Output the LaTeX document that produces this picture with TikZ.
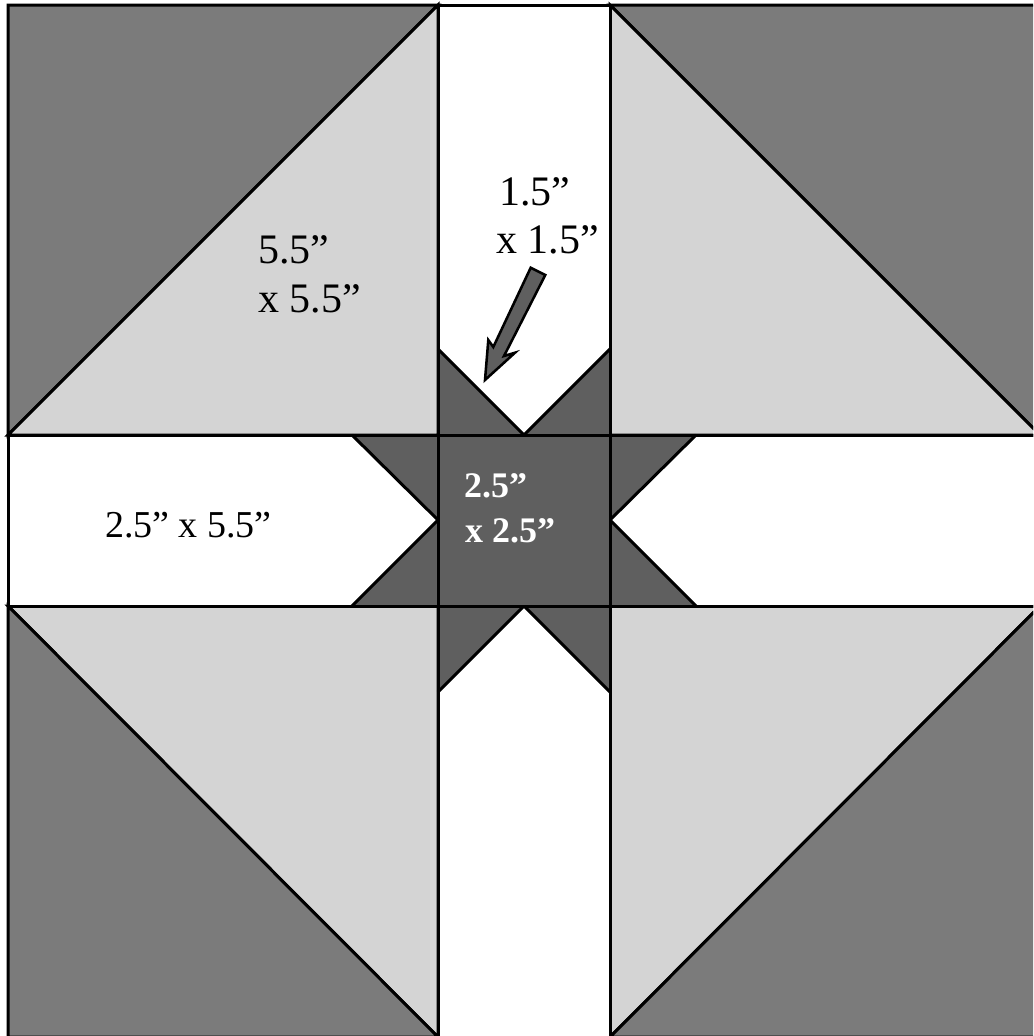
\documentclass[tikz,border=0pt]{standalone}
\usepackage{fontspec}
\setmainfont{Liberation Serif}
\tikzset{
  x=0.75pt,y=-0.75pt,
  piece/.style={draw=black,line width=2.25pt,line join=miter,miter limit=3},
  hst/.style={piece,fill=hstdark},
  lite/.style={piece,fill=hstlight},
  bar/.style={piece,fill=white},
  star/.style={piece,fill=stardark},
  seam/.style={draw=black,line width=2.25pt},
  lbl/.style={anchor=base west,inner sep=0pt,outer sep=0pt,text=black},
  lblbig/.style={lbl,font=\fontsize{31.5pt}{31.5pt}\selectfont},
  lblmid/.style={lbl,font=\fontsize{28.5pt}{28.5pt}\selectfont},
  lblbold/.style={lbl,text=white,font=\fontsize{27pt}{27pt}\selectfont\bfseries},
  pointer/.style={draw=black,line width=1.9pt,fill=stardark,line join=miter,miter limit=6}
}
\definecolor{hstdark}{HTML}{7B7B7B}
\definecolor{hstlight}{HTML}{D4D4D4}
\definecolor{stardark}{HTML}{5F5F5F}
\begin{document}
\begin{tikzpicture}
\useasboundingbox (0,0) rectangle (1033,1036);
\clip (0,0) rectangle (1033,1036);
\fill[white] (0,0) rectangle (1033,1036);
% corner blocks
\draw[hst] (8,5) -- (438,5) -- (8,435) -- cycle;
\draw[lite] (438,5) -- (438,435) -- (8,435) -- cycle;
\draw[hst] (610,5) -- (1040,5) -- (1040,435) -- cycle;
\draw[lite] (610,5) -- (610,435) -- (1040,435) -- cycle;
\draw[lite] (8,606) -- (438,606) -- (438,1037) -- cycle;
\draw[hst] (8,606) -- (8,1037) -- (438,1037) -- cycle;
\draw[lite] (610,606) -- (1040,606) -- (610,1037) -- cycle;
\draw[hst] (1040,606) -- (1040,1037) -- (610,1037) -- cycle;
% bars
\draw[bar] (438,5) rectangle (610,435);
\draw[bar] (438,606) rectangle (610,1037);
\draw[bar] (8,435) rectangle (438,606);
\draw[bar] (610,435) rectangle (1040,606);
% star spikes
\fill[stardark] (438,349) -- (524,435) -- (438,435) -- cycle;
\fill[stardark] (610,349) -- (524,435) -- (610,435) -- cycle;
\fill[stardark] (438,692) -- (524,606) -- (438,606) -- cycle;
\fill[stardark] (610,692) -- (524,606) -- (610,606) -- cycle;
\fill[stardark] (352,435) -- (438,520) -- (438,435) -- cycle;
\fill[stardark] (352,606) -- (438,520) -- (438,606) -- cycle;
\fill[stardark] (696,435) -- (610,520) -- (610,435) -- cycle;
\fill[stardark] (696,606) -- (610,520) -- (610,606) -- cycle;
\draw[seam,line join=miter] (438,349) -- (524,435) -- (610,349);
\draw[seam,line join=miter] (438,692) -- (524,606) -- (610,692);
\draw[seam,line join=miter] (352,435) -- (438,520) -- (352,606);
\draw[seam,line join=miter] (696,435) -- (610,520) -- (696,606);
% centre square
\draw[star] (438,435) rectangle (610,606);
\draw[seam] (8,435) -- (1040,435);
\draw[seam] (8,606) -- (1040,606);
\draw[seam] (438,5) -- (438,1037);
\draw[seam] (610,5) -- (610,1037);
% pointer
\draw[pointer] (530.7,267.7) -- (545.3,275) -- (504,356) -- (515,352.7) -- (485,380) -- (488.3,340) -- (493.3,347) -- cycle;
% labels
\node[lblbig] (a1) at (499,205) {1.5”};
\node[lblbig] (a2) at (496,253) {x 1.5”};
\node[lblbig] (b1) at (258,263.5) {5.5”};
\node[lblbig] (b2) at (258,312.5) {x 5.5”};
\node[lblmid] (c1) at (105,537) {2.5” x 5.5”};
\node[lblbold] (d1) at (464,497) {2.5”};
\node[lblbold] (d2) at (465,542) {x 2.5”};
\end{tikzpicture}
\end{document}
